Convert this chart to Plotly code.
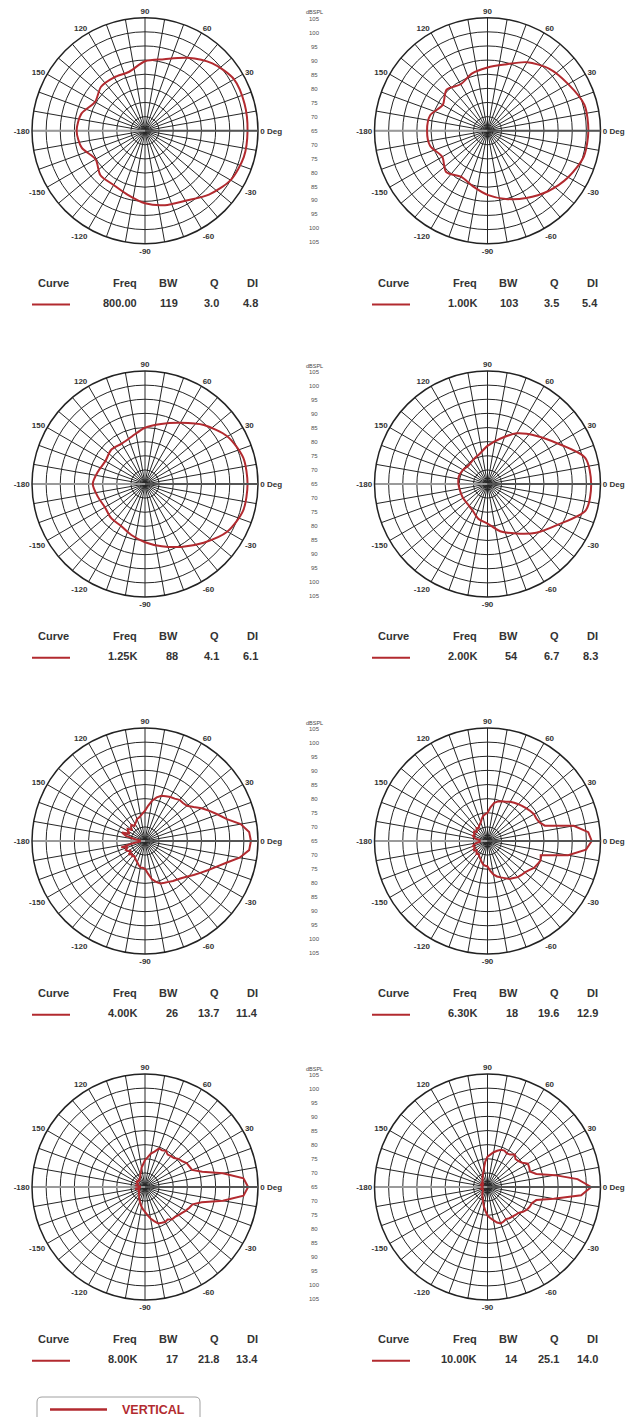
import plotly.graph_objects as go

W, H = 640, 1417      # browser window
OFF = 8               # page body margin
FW, FH = W - OFF, H - OFF
RED = "#B22A2F"
TXT = "#333333"
FONT = "Liberation Sans, Arial, sans-serif"

# ---------------- data ----------------
ANG_COARSE = list(range(0, 360, 15))   # 0..345 deg  (195 = -165 etc.)
ANG_FINE = list(range(0, 360, 5))      # 0..355 deg

P800 = [101.3, 101.5, 101.4, 98.7, 94.8, 91.2, 89.6, 86.6, 86.8, 87, 85.4, 88.3, 89.2,
        88.2, 85.2, 87.3, 87.2, 88.5, 90.7, 92.3, 93.6, 97, 100, 101.2]
P1K = [100.7, 100.5, 98, 96, 93, 89.3, 87.4, 86, 84, 85.5, 83.3, 86, 86.4,
       86, 83.5, 85.7, 83.8, 85.3, 87.7, 90, 92.5, 95.3, 98, 100.3]
P1K25 = [101.3, 101, 98.7, 94.5, 90, 87, 84.9, 82.5, 81.5, 82, 81.2, 82.2, 83.5,
         82.3, 81.4, 82, 82.1, 83.7, 85.6, 87.8, 90.7, 94.4, 98.7, 101]
P2K = [101.7, 100.8, 93.7, 89.2, 85.7, 81.5, 78.5, 76, 75, 74.4, 75, 75.5, 75.3,
       75, 75, 75, 75.7, 77.7, 79, 82.3, 85.2, 89.4, 93.8, 101]
P4K = [102.5, 102, 99.4, 95, 92.4, 90.2, 88.2, 86, 84.4, 84, 84, 83.3, 83, 82.5, 82, 81,
       79.5, 77.5, 75.7, 74.8, 74, 73.5, 73.3, 72.5, 72, 71.5, 72.5, 72, 71, 72.5, 72, 71,
       73.7, 72, 68.5, 66.5, 67,
       66.5, 69, 73.7, 71.5, 72.5, 72, 71, 72.5, 71.5, 72, 71.5, 72, 72.5, 73, 73.8, 74.5,
       74.5, 74.8, 76.5, 78.7, 80, 81, 81.3, 81.7, 82.3, 82.8, 83.5, 84.6, 86, 87.6, 89.5,
       91.8, 94.8, 99, 102]
P6K3 = [101.9, 100.8, 96, 86, 84.5, 84, 84, 83.5, 83, 82.5, 82, 81.5, 81, 80.3, 80, 79.5,
        78.7, 77, 75, 74.5, 74, 73, 72, 71.5, 71, 70.5, 71, 70.5, 70, 70.8, 70.5, 70, 70.5,
        70, 69, 67.5, 68,
        67.5, 69, 70, 70.5, 70, 70.5, 70.8, 70, 70.5, 71, 70.5, 71, 71.5, 72, 72.8, 73.5,
        73.8, 74, 75.5, 77, 78, 78.7, 79.5, 80.5, 81, 81.7, 82, 82.3, 83, 84, 84.5, 85,
        84.5, 94, 100]
P8K = [101.5, 100, 93, 86, 82.7, 82.3, 82, 81, 80.5, 79.5, 79.3, 79, 79.8, 79.3, 79.5, 78,
       77, 75.5, 74.5, 73, 72, 70.5, 69.8, 69, 68.6, 68.5, 68, 68, 68.5, 68.3, 68.6, 67.5,
       68, 67.4, 68.5, 66.5, 67,
       66.5, 68.5, 68, 67, 67.5, 67.2, 68, 67.5, 68, 68.5, 68.5, 69.2, 69.8, 70.4, 71.2,
       72.1, 73, 73.8, 75, 76.3, 77.5, 78.7, 79, 79.3, 79, 79.9, 80, 80.5, 81, 81.7, 82.3,
       82.9, 85.8, 93, 100]
P10K = [101.7, 97, 89.2, 82.9, 81, 81.3, 81.5, 80, 79.3, 79, 80, 79, 78.7, 79.2, 79, 78.3,
        77.5, 76.5, 75.7, 74, 72, 70.5, 69.8, 69, 68.6, 68, 67.8, 67.4, 67.5, 67, 66.8, 67,
        67.5, 67.4, 67, 66.5, 66.8,
        66.5, 67.2, 67.4, 67, 66.8, 66.8, 67, 67.2, 67.4, 67.8, 68.2, 68.6, 69.2, 69.8,
        70.8, 72.1, 73.5, 75.1, 76, 76.9, 78, 78.7, 78.5, 78.1, 78.5, 78.7, 79, 79.3, 80.3,
        81.1, 81.5, 81.7, 82.9, 88.8, 98.3]

CURVES = [P800, P1K, P1K25, P2K, P4K, P6K3, P8K, P10K]
FREQ = ["800.00", "1.00K", "1.25K", "2.00K", "4.00K", "6.30K", "8.00K", "10.00K"]
BW = ["119", "103", "88", "54", "26", "18", "17", "14"]
Q = ["3.0", "3.5", "4.1", "6.7", "13.7", "19.6", "21.8", "25.1"]
DI = ["4.8", "5.4", "6.1", "8.3", "11.4", "12.9", "13.4", "14.0"]
HEADERS = ["Curve", "Freq", "BW", "Q", "DI"]

ANGLE_LABELS = {0: "0 Deg", 30: "30", 60: "60", 90: "90", 120: "120", 150: "150",
                180: "-180", 210: "-150", 240: "-120", 270: "-90", 300: "-60", 330: "-30"}
SCALE_LABELS = [105, 100, 95, 90, 85, 80, 75, 70, 65, 70, 75, 80, 85, 90, 95, 100, 105]
R_MIN, R_MAX = 65, 105
RING_TICKS = [70, 75, 80, 85, 90, 95, 100]
LEGEND_NAME = "VERTICAL"

for c in CURVES:
    assert len(c) in (24, 72), len(c)

# ---------------- layout geometry (page pixels) ----------------
CX = [145, 487.5]
CY = [130.7, 484, 841, 1187]
RAD = 113
COLBASE = [0, 340]


def fx(x):
    return (x - OFF) / FW


def fy(y):
    return 1 - (y - OFF) / FH


fig = go.Figure()
layout = dict(width=FW, height=FH, margin=dict(l=0, r=0, t=0, b=0), template="none",
              paper_bgcolor="white", plot_bgcolor="white", showlegend=False,
              font=dict(family=FONT, color=TXT))
annotations = []
shapes = []

tickvals = list(range(0, 360, 10))
ticktext = [ANGLE_LABELS.get(v, "") for v in tickvals]

for i, vals in enumerate(CURVES):
    row, col = divmod(i, 2)
    cx, cy = CX[col], CY[row]
    name = "polar" if i == 0 else f"polar{i + 1}"
    ang = ANG_COARSE if len(vals) == 24 else ANG_FINE
    fig.add_trace(go.Scatterpolar(r=[R_MIN, R_MAX], theta=[180, 180], mode="lines",
                                  line=dict(color="#9a9a9a", width=2), hoverinfo="skip",
                                  subplot=name))
    fig.add_trace(go.Scatterpolar(
        r=list(vals) + [vals[0]], theta=list(ang) + [ang[0]], mode="lines",
        line=dict(color=RED, width=2, shape="spline" if len(vals) == 24 else "linear",
                  smoothing=0.8),
        subplot=name, name=FREQ[i]))
    layout[name] = dict(
        domain=dict(x=[fx(cx - RAD), fx(cx + RAD)], y=[fy(cy + RAD), fy(cy - RAD)]),
        bgcolor="white",
        radialaxis=dict(range=[R_MIN, R_MAX], tickvals=RING_TICKS, showticklabels=False,
                        ticks="", gridcolor="#262626", gridwidth=1, showline=True,
                        linecolor="#555555", linewidth=2, angle=0),
        angularaxis=dict(rotation=0, direction="counterclockwise", tickvals=tickvals,
                         ticktext=ticktext, ticks="", gridcolor="#262626", gridwidth=1,
                         showline=True, linecolor="#222222", linewidth=1.5,
                         tickfont=dict(size=8, color=TXT, family=FONT, weight="bold")),
    )
    base = COLBASE[col]
    hy = cy + 152
    vy = cy + 172
    hdr_pos = [(53, "center"), (139, "right"), (180, "right"), (220.5, "right"), (260, "right")]
    for (xp, anc), txt in zip(hdr_pos, HEADERS):
        annotations.append(dict(x=fx(base + xp), y=fy(hy), xref="paper", yref="paper",
                                text=txt, showarrow=False, xanchor=anc, yanchor="middle",
                                font=dict(size=11, color=TXT, family=FONT, weight="bold")))
    for (xp, anc), txt in zip(hdr_pos[1:], [FREQ[i], BW[i], Q[i], DI[i]]):
        annotations.append(dict(x=fx(base + xp), y=fy(vy), xref="paper", yref="paper",
                                text=txt, showarrow=False, xanchor=anc, yanchor="middle",
                                font=dict(size=11, color=TXT, family=FONT, weight="bold")))
    shapes.append(dict(type="line", xref="paper", yref="paper",
                       x0=fx(base + 32), x1=fx(base + 70), y0=fy(vy + 1.7), y1=fy(vy + 1.7),
                       line=dict(color=RED, width=2)))

# dBSPL scale between columns (one per row)
step = 13.96
for cy in CY:
    annotations.append(dict(x=fx(304), y=fy(cy - 118.4), xref="paper", yref="paper",
                            text="dBSPL", showarrow=False, xanchor="left", yanchor="middle",
                            font=dict(size=5.5, color="#444444", family=FONT)))
    for k, lab in enumerate(SCALE_LABELS):
        annotations.append(dict(x=fx(314.5), y=fy(cy + (k - 8) * step), xref="paper",
                                yref="paper", text=str(lab), showarrow=False,
                                xanchor="center", yanchor="middle",
                                font=dict(size=6, color="#505050", family=FONT)))

# legend box
x0, x1, y0, y1, rr = 37, 200, 1397, 1440, 5
path = (f"M {fx(x0 + rr)} {fy(y0)} L {fx(x1 - rr)} {fy(y0)} "
        f"Q {fx(x1)} {fy(y0)} {fx(x1)} {fy(y0 + rr)} L {fx(x1)} {fy(y1)} "
        f"L {fx(x0)} {fy(y1)} L {fx(x0)} {fy(y0 + rr)} "
        f"Q {fx(x0)} {fy(y0)} {fx(x0 + rr)} {fy(y0)} Z")
shapes.append(dict(type="path", xref="paper", yref="paper", path=path,
                   line=dict(color="#a0a0a0", width=1)))
shapes.append(dict(type="line", xref="paper", yref="paper", x0=fx(50), x1=fx(107),
                   y0=fy(1409.5), y1=fy(1409.5), line=dict(color=RED, width=2.5)))
annotations.append(dict(x=fx(120), y=fy(1410), xref="paper", yref="paper", text=LEGEND_NAME,
                        showarrow=False, xanchor="left", yanchor="middle",
                        font=dict(size=12.5, color=RED, family=FONT, weight="bold")))

layout["annotations"] = annotations
layout["shapes"] = shapes
fig.update_layout(**layout)
fig.write_html("out.html")
